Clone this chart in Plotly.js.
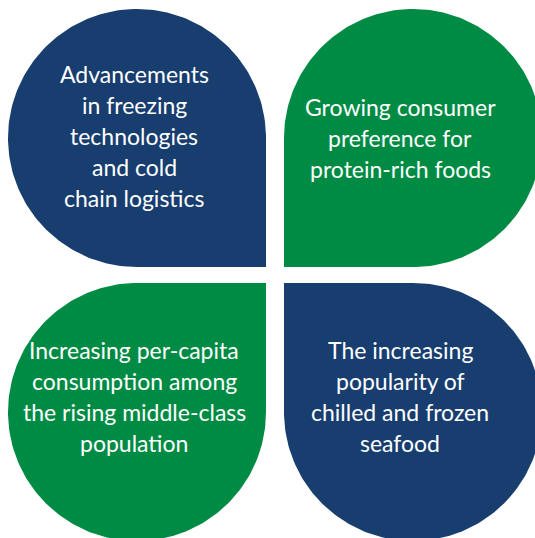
<!DOCTYPE html>
<html>
<head>
<meta charset="utf-8">
<script src="https://cdn.plot.ly/plotly-3.0.1.min.js"></script>
<style>html,body{margin:0;padding:0;background:#fff;overflow:hidden}#chart{width:535px;height:538px}</style>
</head>
<body>
<div id="chart"></div>
<script>
// Four driver segments of the "four-leaf" diagram
const segmentNames = ["Freezing technologies", "Protein preference", "Per-capita consumption", "Chilled & frozen seafood"];
const segmentLines = [
  ["Advancements", "in freezing", "technologies", "and cold", "chain logistics"],
  ["Growing consumer", "preference for", "protein-rich foods"],
  ["Increasing per-capita", "consumption among", "the rising middle-class", "population"],
  ["The increasing", "popularity of", "chilled and frozen", "seafood"]
];
const segmentColors = ["#183D6F", "#008B44", "#008B44", "#183D6F"];

// layout geometry (style, not data)
const R = 129;
const centers = [[137, 138], [413, 138], [137, 412], [413, 412]];
const corners = [[1, 1], [-1, 1], [1, -1], [-1, -1]]; // square corner direction
const textCenters = [[134, 136], [400, 138], [134, 396], [400, 396]];
const lineGap = 31;

const traces = [];
const annotations = [];
segmentNames.forEach((name, i) => {
  const [cx, cy] = centers[i];
  const [dx, dy] = corners[i];
  const phi = Math.atan2(dy, dx);
  const start = phi + Math.PI / 4;
  const xs = [], ys = [];
  const N = 180;
  for (let k = 0; k <= N; k++) {
    const t = start + (k / N) * 1.5 * Math.PI;
    xs.push(cx + R * Math.cos(t));
    ys.push(cy + R * Math.sin(t));
  }
  xs.push(cx + dx * R); ys.push(cy + dy * R);
  xs.push(xs[0]); ys.push(ys[0]);
  traces.push({
    type: "scatter", mode: "lines", x: xs, y: ys, fill: "toself",
    fillcolor: segmentColors[i], line: {width: 0, color: segmentColors[i]},
    name: name, hoverinfo: "skip", showlegend: false
  });
  const lines = segmentLines[i];
  const [tx, ty] = textCenters[i];
  lines.forEach((ln, j) => {
    annotations.push({
      x: tx, y: ty + (j - (lines.length - 1) / 2) * lineGap,
      xref: "x", yref: "y", text: ln, showarrow: false,
      xanchor: "center", yanchor: "middle",
      font: {family: "Lato, 'Open Sans', sans-serif", size: 23, color: "#ffffff"}
    });
  });
});

const layout = {
  width: 535, height: 538,
  margin: {l: 0, r: 0, t: 0, b: 0, pad: 0},
  paper_bgcolor: "#ffffff", plot_bgcolor: "#ffffff",
  xaxis: {range: [0, 535], visible: false, fixedrange: true},
  yaxis: {range: [538, 0], visible: false, fixedrange: true},
  annotations: annotations,
  showlegend: false
};
Plotly.newPlot("chart", traces, layout, {staticPlot: true, displayModeBar: false});
</script>
</body>
</html>
